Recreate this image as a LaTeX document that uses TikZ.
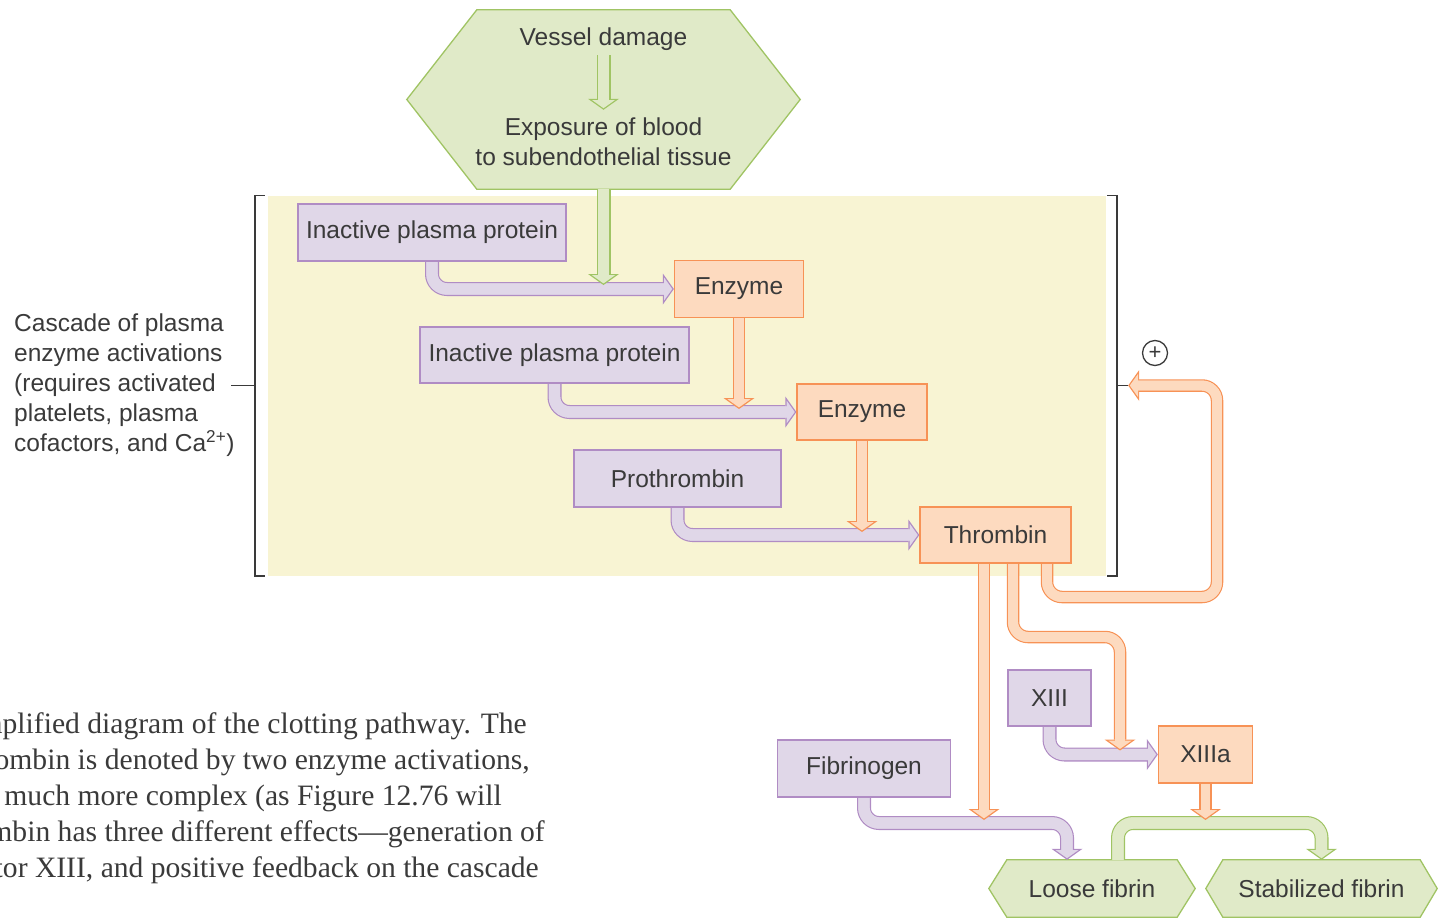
\documentclass[tikz,border=0pt]{standalone}
\usepackage{fontspec}
\setmainfont{Liberation Sans}
\newfontfamily\capfont{Liberation Serif}
\usetikzlibrary{arrows.meta,calc}

\definecolor{purpfill}{HTML}{E0D7E8}
\definecolor{purpline}{HTML}{B08CC4}
\definecolor{orgfill}{HTML}{FDDABF}
\definecolor{orgline}{HTML}{F79256}
\definecolor{grnfill}{HTML}{E0EAC8}
\definecolor{grnline}{HTML}{A0C464}
\definecolor{cascbg}{HTML}{F8F4D3}
\definecolor{ink}{HTML}{3A3A3A}

\pgfdeclarelayer{bg}
\pgfdeclarelayer{arr}
\pgfsetlayers{bg,arr,main}

\tikzset{
  flow/.style n args={4}{draw=#2, line width=#4, rounded corners=15pt,
    -{Triangle[length=8.2pt,width=23pt,line width=0pt]}, shorten >=1.6pt,
    preaction={draw=#1, line width=#3, shorten >=0pt,
      -{Triangle[length=11pt,width=31pt,line width=0pt]}},
    postaction={draw=#2, line width=#4, shorten >=9pt, -}},
  purpflow/.style={flow={purpline}{purpfill}{14pt}{11.4pt}},
  grnflow/.style={flow={grnline}{grnfill}{14pt}{11.4pt}},
  orgflow/.style={flow={orgline}{orgfill}{12.5pt}{9.9pt}},
  purpbox/.style={draw=purpline, fill=purpfill, line width=1.3pt, inner sep=0pt,
    minimum height=57pt, text=ink},
  orgbox/.style={draw=orgline, fill=orgfill, line width=1.3pt, inner sep=0pt,
    minimum height=57pt, text=ink},
  hexnode/.style={inner sep=0pt, minimum height=57pt, text=ink},
  hexline/.style={draw=grnline, fill=grnfill, line width=1.3pt},
  brk/.style={draw=ink, line width=1.6pt},
  capnode/.style={anchor=base east, inner sep=0pt, text=ink,
    font=\capfont\fontsize{29.6}{36}\selectfont}
}

\begin{document}
\begin{tikzpicture}[x=1pt,y=-1pt,font=\fontsize{24.5}{30}\selectfont]
  \useasboundingbox (0,0) rectangle (1439,918);

  % cascade region
  \begin{pgfonlayer}{bg}
    \node[fill=cascbg, minimum width=838pt, minimum height=380pt] (casz) at (687,385.5) {};
  \end{pgfonlayer}

  % vessel damage
  \node[inner sep=0pt, minimum width=393pt, minimum height=179pt] (dmg) at (603.5,99.5) {};
  \node[text=ink, inner sep=4pt] (vessel) at (603.5,39.5) {Vessel damage};
  \node[text=ink, align=center, inner sep=8pt] (expo) at (603.5,142) {Exposure of blood\\to subendothelial tissue};

  % boxes
  \node[purpbox, minimum width=268pt] (ipp1) at (432,232.5) {Inactive plasma protein};
  \node[orgbox, minimum width=129pt]  (enz1) at (739,289)   {Enzyme};
  \node[purpbox, minimum width=269pt, minimum height=56pt] (ipp2) at (554.5,355) {Inactive plasma protein};
  \node[orgbox, minimum width=130pt, minimum height=56pt]  (enz2) at (862,412)   {Enzyme};
  \node[purpbox, minimum width=207pt] (pro)  at (677.5,478.5) {Prothrombin};
  \node[orgbox, minimum width=151pt, minimum height=56pt]  (thr)  at (995.5,535)  {Thrombin};
  \node[purpbox, minimum width=83pt, minimum height=56pt]  (xiii) at (1049.5,698) {XIII};
  \node[orgbox, minimum width=94pt]   (xiiia) at (1205.5,754.5) {XIIIa};
  \node[purpbox, minimum width=173pt] (fib)  at (864,768.5)  {Fibrinogen};
  \node[hexnode, minimum width=206pt] (loose) at (1092,888.5) {Loose fibrin};
  \node[hexnode, minimum width=231pt] (stab)  at (1321.5,888.5) {Stabilized fibrin};

  \begin{pgfonlayer}{bg}
    \draw[hexline] (dmg.west) -- ([xshift=70pt]dmg.north west) -- ([xshift=-70pt]dmg.north east)
      -- (dmg.east) -- ([xshift=-70pt]dmg.south east) -- ([xshift=70pt]dmg.south west) -- cycle;
    \draw[hexline] (loose.west) -- ([xshift=18pt]loose.north west) -- ([xshift=-18pt]loose.north east)
      -- (loose.east) -- ([xshift=-18pt]loose.south east) -- ([xshift=18pt]loose.south west) -- cycle;
    \draw[hexline] (stab.west) -- ([xshift=17pt]stab.north west) -- ([xshift=-17pt]stab.north east)
      -- (stab.east) -- ([xshift=-17pt]stab.south east) -- ([xshift=17pt]stab.south west) -- cycle;
  \end{pgfonlayer}

  % label and brackets
  \node[anchor=north west, align=left, inner sep=0pt, text=ink] (casc) at (14,314)
    {Cascade of plasma\\enzyme activations\\(requires activated\\platelets, plasma\\cofactors, and Ca\textsuperscript{2+})};
  \draw[brk] ([xshift=-3pt]casz.north west) -| ([xshift=-13pt]casz.south west) -- ([xshift=-3pt]casz.south west);
  \draw[brk] ([xshift=-13pt]casz.west) -- ($(casz.west -| casc.east)+(-4,0)$);
  \draw[brk] ([xshift=1pt]casz.north east) -| ([xshift=11pt]casz.south east) -- ([xshift=1pt]casz.south east);
  \coordinate (fbtip) at ([xshift=22pt]casz.east);
  \draw[brk] ([xshift=11pt]casz.east) -- (fbtip);
  \node[draw=ink, circle, line width=1.3pt, minimum size=25pt, inner sep=0pt, text=ink] (plus) at (1155,353)
    {\fontsize{22}{22}\selectfont +};

  \coordinate (lvl) at (0,823);
  \coordinate (bturn) at (1120,637);
  \coordinate (fbturn) at (1217,597);

  \begin{pgfonlayer}{arr}
    \draw[grnflow] (vessel.south) -- (expo.north);
    \draw[purpflow] (ipp1.south) |- (enz1.west);
    \draw[purpflow] (ipp2.south) |- (enz2.west);
    \draw[purpflow] (pro.south) |- (thr.west);
    \draw[purpflow] (xiii.south) |- (xiiia.west);
    \draw[purpflow] (fib.south) |- ($(loose.north |- lvl)+(-25,0)$) -- ([xshift=-25pt]loose.north);
    \draw[grnflow] (dmg.south) -- ($(dmg.south |- enz1.west)+(0,-4)$);
    \draw[grnflow] ([xshift=26pt]loose.north) |- (lvl -| stab.north) -- (stab.north);
    \draw[orgflow] (enz1.south) -- ($(enz1.south |- enz2.west)+(0,-3)$);
    \draw[orgflow] (enz2.south) -- ($(enz2.south |- thr.west)+(0,-3)$);
    \draw[orgflow] ([xshift=-11.5pt]thr.south) -- ($(thr.south |- lvl)+(-11.5,-3)$);
    \draw[orgflow] ([xshift=17.5pt]thr.south) |- (bturn) -- ($(bturn |- xiiia.west)+(0,-4)$);
    \draw[orgflow] ([xshift=51.5pt]thr.south) |- (fbturn) |- (fbtip);
    \draw[orgflow] (xiiia.south) -- ($(xiiia.south |- lvl)+(0,-3)$);
  \end{pgfonlayer}

  % caption
  \node[capnode] (cap1) at (527,733) {mplified diagram of the clotting pathway. The};
  \node[capnode] (cap2) at (530,769) {ombin is denoted by two enzyme activations,};
  \node[capnode] (cap3) at (502,805) {y much more complex (as Figure 12.76 will};
  \node[capnode] (cap4) at (545,841) {mbin has three different effects—generation of};
  \node[capnode] (cap5) at (539,877) {tor XIII, and positive feedback on the cascade};

\end{tikzpicture}
\end{document}
